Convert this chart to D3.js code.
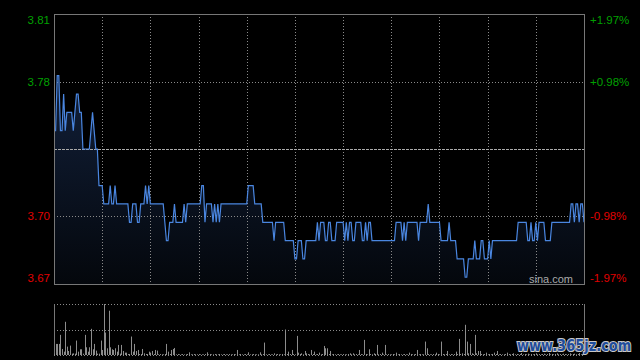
<!DOCTYPE html>
<html><head><meta charset="utf-8">
<script src="https://cdn.jsdelivr.net/npm/d3@7"></script>
<style>html,body{margin:0;padding:0;background:#000;}svg{display:block;}</style>
</head><body>
<svg id="c" width="640" height="360"></svg>
<script>
// ---- data ----
const prevClose = 3.74;
const pctTicks = [1.97, 0.98, -0.98, -1.97];
const priceLabels = ["3.81", "3.78", "3.70", "3.67"];
const pctLabels = ["+1.97%", "+0.98%", "-0.98%", "-1.97%"];
const timeGrid = [30, 60, 90, 120, 150, 180, 210, 240, 270, 300];
// minute-by-minute price (09:30 .. 16:00, 331 points)
const prices = [
3.75,3.75,3.78,3.78,3.75,3.75,3.77,3.75,3.76,3.76,
3.76,3.76,3.75,3.76,3.77,3.77,3.76,3.76,3.74,3.74,
3.74,3.74,3.74,3.75,3.76,3.75,3.74,3.74,3.72,3.72,
3.72,3.71,3.71,3.71,3.71,3.72,3.71,3.71,3.72,3.71,
3.71,3.71,3.71,3.71,3.71,3.71,3.71,3.70,3.70,3.71,
3.71,3.71,3.70,3.70,3.71,3.71,3.71,3.72,3.71,3.72,
3.71,3.71,3.71,3.71,3.71,3.71,3.71,3.71,3.71,3.70,
3.69,3.69,3.70,3.70,3.70,3.71,3.70,3.70,3.70,3.70,
3.70,3.71,3.70,3.71,3.71,3.71,3.71,3.71,3.71,3.71,
3.71,3.71,3.72,3.72,3.70,3.71,3.71,3.71,3.71,3.70,
3.71,3.70,3.71,3.70,3.71,3.71,3.71,3.71,3.71,3.71,
3.71,3.71,3.71,3.71,3.71,3.71,3.71,3.71,3.71,3.71,
3.71,3.72,3.72,3.72,3.72,3.71,3.71,3.71,3.71,3.71,
3.70,3.70,3.70,3.70,3.70,3.70,3.70,3.69,3.70,3.70,
3.70,3.70,3.70,3.70,3.69,3.69,3.69,3.69,3.69,3.69,
3.68,3.68,3.69,3.69,3.69,3.68,3.68,3.69,3.69,3.69,
3.69,3.69,3.69,3.69,3.70,3.69,3.70,3.70,3.70,3.69,
3.69,3.70,3.70,3.69,3.69,3.69,3.70,3.70,3.70,3.70,
3.70,3.69,3.70,3.69,3.70,3.70,3.69,3.69,3.70,3.70,
3.70,3.70,3.69,3.69,3.70,3.69,3.70,3.70,3.69,3.69,
3.69,3.69,3.69,3.69,3.69,3.69,3.69,3.69,3.69,3.69,
3.69,3.69,3.69,3.70,3.70,3.70,3.70,3.69,3.70,3.69,
3.70,3.70,3.70,3.70,3.70,3.70,3.70,3.69,3.70,3.70,
3.70,3.70,3.70,3.71,3.70,3.70,3.70,3.70,3.70,3.70,
3.70,3.69,3.69,3.69,3.69,3.69,3.70,3.69,3.69,3.69,
3.69,3.68,3.68,3.68,3.68,3.68,3.67,3.67,3.68,3.68,
3.68,3.68,3.69,3.68,3.68,3.68,3.69,3.69,3.68,3.68,
3.68,3.69,3.68,3.69,3.69,3.69,3.69,3.69,3.69,3.69,
3.69,3.69,3.69,3.69,3.69,3.69,3.69,3.69,3.69,3.70,
3.70,3.70,3.70,3.70,3.70,3.69,3.69,3.70,3.69,3.69,
3.70,3.69,3.70,3.70,3.70,3.70,3.69,3.69,3.69,3.69,
3.70,3.70,3.70,3.70,3.70,3.70,3.70,3.70,3.70,3.70,
3.70,3.70,3.71,3.71,3.70,3.71,3.71,3.70,3.71,3.71,
3.70
];
// minute volume (relative units)
const volumes = [
4,33,33,33,60,18,10,99,25,12,
28,4,5,4,43,10,17,17,4,60,
23,10,23,78,17,33,13,4,4,43,
15,152,67,20,132,23,17,15,20,10,
30,4,30,12,7,7,3,3,55,10,
33,12,15,3,3,18,5,3,3,10,
7,12,3,15,13,2,3,2,2,3,
33,10,3,15,18,21,2,3,2,2,
3,2,2,3,8,2,2,3,2,2,
3,2,2,2,3,8,2,3,2,2,
3,2,2,3,2,2,3,2,2,3,
2,2,3,2,15,2,3,2,2,3,
2,8,2,2,3,2,2,2,8,2,
3,37,2,2,3,2,2,5,2,3,
2,2,3,2,76,3,10,3,15,3,
2,57,7,3,5,2,12,5,3,2,
15,3,10,2,3,7,2,3,27,20,
20,3,12,2,3,2,2,3,2,2,
3,2,2,3,5,2,5,2,3,2,
15,3,2,45,3,2,17,3,2,5,
3,30,2,3,7,2,30,2,3,2,
2,3,2,7,2,3,2,2,3,2,
2,7,3,2,2,3,15,2,3,2,
2,40,20,3,2,2,3,2,7,3,
2,40,3,2,3,12,2,3,2,3,
10,3,48,3,5,3,90,40,5,33,
5,3,60,5,12,12,3,2,3,7,
2,3,2,3,7,3,12,2,3,2,
2,3,7,3,2,3,5,2,3,2,
3,6,2,3,2,4,2,3,2,3,
5,2,3,2,3,4,2,3,6,2,
3,2,3,5,2,3,2,4,3,2,
3,5,2,3,4,2,3,6,2,3,
8
];
const watermark = "www.365jz.com";
const source = "sina.com";

// ---- layout ----
const L = 54, R = 584, T = 14, B = 284;
const VT = 304, VB = 355;
const svg = d3.select("#c");
svg.append("rect").attr("width",640).attr("height",360).attr("fill","#000");

const x = d3.scaleLinear().domain([0, 330]).range([L, R]);
const y = d3.scaleLinear()
  .domain([prevClose*(1-0.0197), prevClose*(1+0.0197)])
  .range([B, T]);
const yv = d3.scaleLinear().domain([0, d3.max(volumes)]).range([VB, VT]);
const labelY = p => Math.max(T + 6, Math.min(B - 6.5, y(prevClose*(1+p/100))));

const defs = svg.append("defs");
const g = defs.append("linearGradient").attr("id","ag").attr("x1",0).attr("x2",0).attr("y1",0).attr("y2",1);
g.append("stop").attr("offset","0%").attr("stop-color","#12203a");
g.append("stop").attr("offset","100%").attr("stop-color","#04070c");

// area
const area = d3.area().x((d,i)=>x(i)).y0(B).y1(d=>y(d));
svg.append("path").datum(prices).attr("d", area).attr("fill","url(#ag)");

// grids
const gridCol = "#8a8a8a";
svg.append("g").selectAll("line").data(timeGrid).join("line")
  .attr("x1", d=>Math.round(x(d))+0.5).attr("x2", d=>Math.round(x(d))+0.5)
  .attr("y1", T).attr("y2", B)
  .attr("stroke", gridCol).attr("stroke-dasharray","1,2");
const hp = pctTicks.filter(p => Math.abs(p) < 1.5);
svg.append("g").selectAll("line").data(hp).join("line")
  .attr("x1", L).attr("x2", R)
  .attr("y1", d=>Math.round(y(prevClose*(1+d/100)))+0.5)
  .attr("y2", d=>Math.round(y(prevClose*(1+d/100)))+0.5)
  .attr("stroke", gridCol).attr("stroke-dasharray","1,2");
svg.append("line").attr("x1",L).attr("x2",R)
  .attr("y1", Math.round(y(prevClose))+0.5).attr("y2", Math.round(y(prevClose))+0.5)
  .attr("stroke","#aaa").attr("stroke-dasharray","3,1");

// price line
const line = d3.line().x((d,i)=>x(i)).y(d=>y(d));
svg.append("path").datum(prices).attr("d", line)
  .attr("fill","none").attr("stroke","#4a86e0").attr("stroke-width",1.2);

// frame
svg.append("rect").attr("x",L+0.5).attr("y",T+0.5).attr("width",R-L).attr("height",B-T)
  .attr("fill","none").attr("stroke","#777");

// labels
const fontF = "'Liberation Sans', Arial, sans-serif";
svg.append("g").selectAll("text").data(pctTicks).join("text")
  .attr("x", 50).attr("y", d=>labelY(d))
  .attr("dy","0.35em")
  .attr("text-anchor","end")
  .attr("font-family", fontF).attr("font-size", 11.5)
  .attr("fill", d=> d>0 ? "#00a000" : "#e00000")
  .text((d,i)=>priceLabels[i]);
svg.append("g").selectAll("text").data(pctTicks).join("text")
  .attr("x", 590).attr("y", d=>labelY(d))
  .attr("dy","0.35em")
  .attr("font-family", fontF).attr("font-size", 11.5)
  .attr("fill", d=> d>0 ? "#00a000" : "#e00000")
  .text((d,i)=>pctLabels[i]);

svg.append("text").attr("x", 573).attr("y", 283).attr("text-anchor","end")
  .attr("font-family", fontF).attr("font-size", 11).attr("fill","#aaa").text(source);

// volume panel
const vGrid = [VT, (VT+VB)/2, VB];
svg.append("g").selectAll("line").data(vGrid).join("line")
  .attr("x1", L).attr("x2", R)
  .attr("y1", d=>Math.round(d)+0.5).attr("y2", d=>Math.round(d)+0.5)
  .attr("stroke", gridCol).attr("stroke-dasharray","1,2");
svg.append("line").attr("x1",L+0.5).attr("x2",L+0.5).attr("y1",VT).attr("y2",VB).attr("stroke","#777");
svg.append("line").attr("x1",R+0.5).attr("x2",R+0.5).attr("y1",VT).attr("y2",VB).attr("stroke","#777");
svg.append("g").selectAll("line").data(volumes).join("line")
  .attr("x1",(d,i)=>Math.round(x(i))+0.5).attr("x2",(d,i)=>Math.round(x(i))+0.5)
  .attr("y1", VB).attr("y2", d=>yv(d))
  .attr("stroke","#8c8c8c").attr("stroke-width",1);

// watermark
svg.append("text").attr("transform","translate(517,351) scale(1,1.2)")
  .attr("font-family","'DejaVu Sans', sans-serif").attr("font-weight","bold")
  .attr("font-size", 13)
  .attr("fill","#1f4d9c").attr("stroke","#c8c8c8").attr("stroke-width",1.8)
  .attr("paint-order","stroke")
  .text(watermark);
</script>
</body></html>
